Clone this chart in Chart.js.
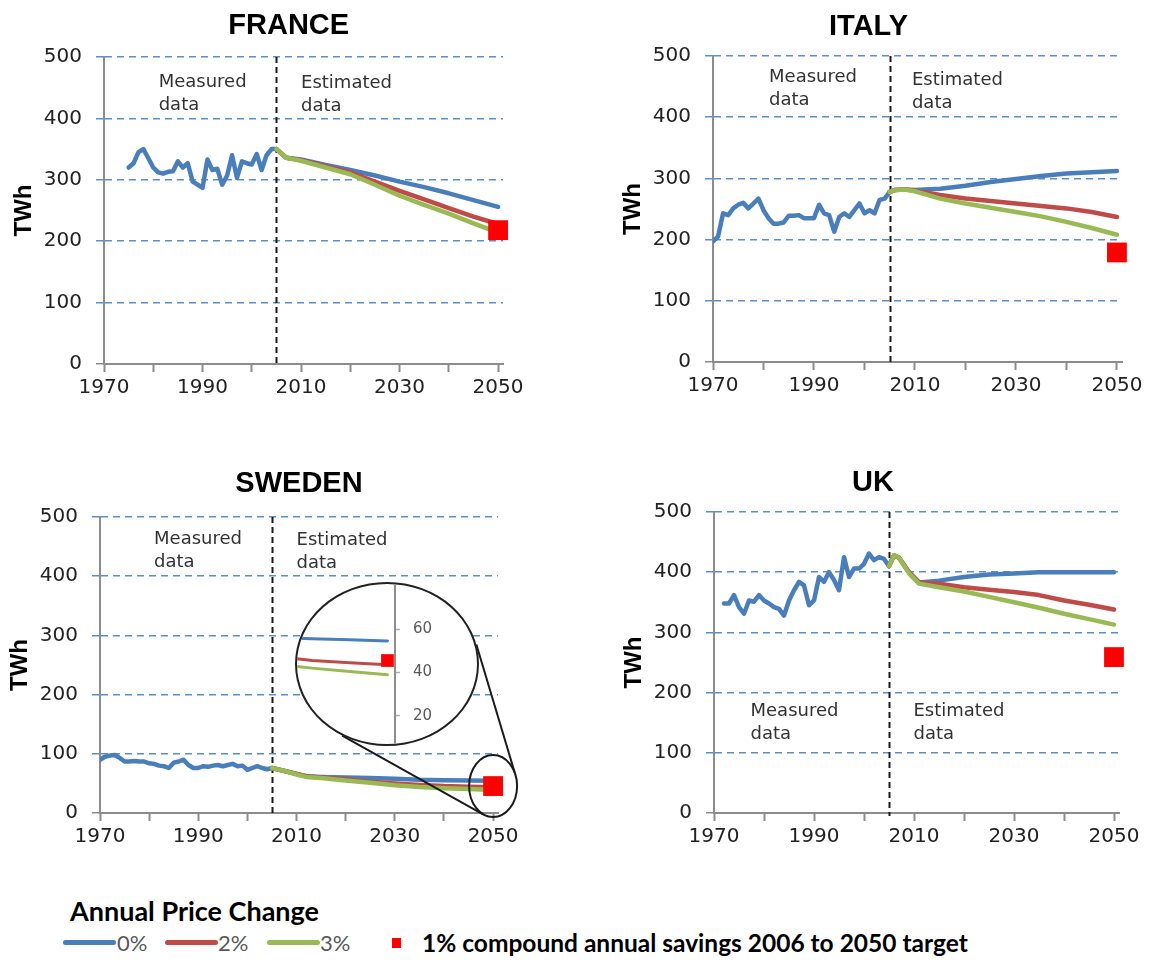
<!DOCTYPE html>
<html>
<head>
<meta charset="utf-8">
<script src="https://cdn.jsdelivr.net/npm/chart.js@4.4.1/dist/chart.umd.min.js"></script>
<style>
html,body{margin:0;padding:0;background:#fff;}
#wrap{position:relative;width:1153px;height:967px;overflow:hidden;background:#fff;}
.cv{position:absolute;}
#insetBox{position:absolute;border:2px solid #222;border-radius:50%;overflow:hidden;background:#fff;box-sizing:border-box;z-index:5;}
#insetBox canvas{position:absolute;left:0;top:0;}
.lg{position:absolute;white-space:nowrap;font-family:Lato,"Liberation Sans",sans-serif;}
.sw{position:absolute;height:5px;border-radius:2.5px;}
</style>
</head>
<body>
<div id="wrap">
  <canvas class="cv" id="cFrance" width="576" height="450" style="left:0;top:0"></canvas>
  <canvas class="cv" id="cItaly" width="577" height="450" style="left:576px;top:0"></canvas>
  <canvas class="cv" id="cSweden" width="576" height="430" style="left:0;top:450px"></canvas>
  <canvas class="cv" id="cUK" width="577" height="430" style="left:576px;top:450px"></canvas>
  <div id="insetBox" style="left:295px;top:582px;width:184px;height:164px;"><canvas id="cInset" width="180" height="160"></canvas></div>

  <div class="lg" style="left:70px;top:897px;font-size:27px;line-height:27px;font-weight:700;color:#000;">Annual Price Change</div>
  <div class="sw" style="left:63px;top:940px;width:53px;background:#4a7ebb;"></div>
  <div class="lg" style="left:117px;top:932px;font-size:22px;line-height:22px;color:#595959;">0%</div>
  <div class="sw" style="left:165px;top:940px;width:53px;background:#be4b48;"></div>
  <div class="lg" style="left:218px;top:932px;font-size:22px;line-height:22px;color:#595959;">2%</div>
  <div class="sw" style="left:267px;top:940px;width:53px;background:#98b954;"></div>
  <div class="lg" style="left:320px;top:932px;font-size:22px;line-height:22px;color:#595959;">3%</div>
  <div style="position:absolute;left:392px;top:938px;width:9px;height:10px;background:#ff0000;"></div>
  <div class="lg" style="left:422px;top:930px;font-size:24.5px;line-height:25px;font-weight:700;color:#000;">1% compound annual savings 2006 to 2050 target</div>
</div>

<script>
// ---------------- data ----------------
const decadeTicks = [1970, 1980, 1990, 2000, 2010, 2020, 2030, 2040, 2050];
const xLabelYears = [1970, 1990, 2010, 2030, 2050];
const yTickValues = [0, 100, 200, 300, 400, 500];
const insetTickValues = [20, 40, 60];
const dividerYear = 2005;
const targetYear = 2050;

const measuredYears = [1970,1971,1972,1973,1974,1975,1976,1977,1978,1979,1980,1981,1982,1983,1984,1985,1986,1987,1988,1989,
                       1990,1991,1992,1993,1994,1995,1996,1997,1998,1999,2000,2001,2002,2003,2004,2005];

// FRANCE (measured 1975-2005)
const franceMeasured = [320,327,345,350,335,320,312,310,313,314,330,320,327,297,292,287,333,316,318,292,307,340,303,330,327,325,342,316,340,350,350];
const franceProjYears = [2005,2007,2010,2015,2020,2025,2030,2035,2040,2045,2050];
const franceP0 = [350,336,333,324,316,307,297,288,278,267,256];
const franceP2 = [350,336,332,322,312,297,282,268,254,240,228];
const franceP3 = [350,336,331,320,309,292,274,259,245,229,214];
const franceTarget = 218;

// ITALY (measured 1970-2005)
const italyMeasured = [197,205,243,240,251,257,260,251,259,267,248,235,226,226,228,239,239,240,235,235,235,257,243,240,213,237,243,237,248,259,243,248,243,265,267,278];
const italyProjYears = [2005,2006,2008,2010,2015,2020,2025,2030,2035,2040,2045,2050];
const italyP0 = [278,281,282,281,283,288,294,299,304,308,310,312];
const italyP2 = [278,281,282,280,273,267,263,259,255,251,245,237];
const italyP3 = [278,281,282,279,267,259,252,245,238,229,219,208];
const italyTarget = 179;

// SWEDEN (measured 1970-2005)
const swedenMeasured = [90,95,97,98,93,87,87,88,87,87,84,83,80,79,76,85,87,90,81,76,76,79,78,80,81,79,81,83,79,80,73,76,79,76,74,76];
const swedenProjYears = [2005,2008,2010,2012,2015,2020,2025,2030,2035,2040,2045,2050];
const swedenP0 = [76,70,66,62,61,60,59,58,56,55.5,55,54.5];
const swedenP2 = [76,70,66,62,60,57,53,50,47.5,45.5,44.5,43.5];
const swedenP3 = [76,70,65,61,59,55,51,47,44,42,40.5,39];
const swedenTarget = 45.5;

// UK (measured 1972-2005)
const ukMeasured = [348,348,362,342,331,353,351,362,353,348,342,339,328,353,370,384,378,345,353,392,384,400,387,370,425,392,406,406,414,431,420,425,422,410];
const ukProjYears = [2005,2006,2007,2009,2011,2015,2020,2025,2030,2035,2040,2045,2050];
const ukP0 = [410,428,424,400,383,386,392,396,398,400,400,400,400];
const ukP2 = [410,428,424,400,383,381,375,371,367,362,353,346,338];
const ukP3 = [410,428,424,398,381,375,368,359,350,341,331,322,313];
const ukTarget = 259;

// ---------------- styles / layout ----------------
const COL0 = '#4a7ebb', COL2 = '#be4b48', COL3 = '#98b954', TARGET_COL = '#ff0000';
const GRID_COL = '#5b8fc9', AXIS_COL = '#8c8c8c';
Chart.defaults.font.family = '"DejaVu Sans", Verdana, sans-serif';

function pts(years, vals) { return vals.map((v, i) => ({x: years[i], y: v})); }

const charts = [
  {id: 'cFrance', title: 'FRANCE', canvas: {l: 0, t: 0, w: 576, h: 450}, area: {l: 104, r: 503, t: 57, b: 364},
   titleYear: 2007.5, titleDy: 31, measured: pts(measuredYears.slice(5), franceMeasured),
   p0: pts(franceProjYears, franceP0), p2: pts(franceProjYears, franceP2), p3: pts(franceProjYears, franceP3), target: franceTarget,
   notes: [{x: 1981.1, y: 473, lines: ['Measured', 'data']}, {x: 2010, y: 470, lines: ['Estimated', 'data']}]},
  {id: 'cItaly', title: 'ITALY', canvas: {l: 576, t: 0, w: 577, h: 450}, area: {l: 713, r: 1122, t: 56, b: 362},
   titleYear: 2000.8, titleDy: 29, measured: pts(measuredYears, italyMeasured),
   p0: pts(italyProjYears, italyP0), p2: pts(italyProjYears, italyP2), p3: pts(italyProjYears, italyP3), target: italyTarget,
   notes: [{x: 1981.1, y: 479, lines: ['Measured', 'data']}, {x: 2009.4, y: 474, lines: ['Estimated', 'data']}]},
  {id: 'cSweden', title: 'SWEDEN', canvas: {l: 0, t: 450, w: 576, h: 430}, area: {l: 100, r: 498, t: 517, b: 813},
   titleYear: 2010.5, titleDy: 33, measured: pts(measuredYears, swedenMeasured),
   p0: pts(swedenProjYears, swedenP0), p2: pts(swedenProjYears, swedenP2), p3: pts(swedenProjYears, swedenP3), target: swedenTarget,
   notes: [{x: 1981, y: 476, lines: ['Measured', 'data']}, {x: 2010, y: 474, lines: ['Estimated', 'data']}],
   zoom: true},
  {id: 'cUK', title: 'UK', canvas: {l: 576, t: 450, w: 577, h: 430}, area: {l: 714, r: 1119, t: 512, b: 813},
   titleYear: 2001.8, titleDy: 29, measured: pts(measuredYears.slice(2), ukMeasured),
   p0: pts(ukProjYears, ukP0), p2: pts(ukProjYears, ukP2), p3: pts(ukProjYears, ukP3), target: ukTarget,
   notes: [{x: 1977.3, y: 182, lines: ['Measured', 'data']}, {x: 2009.9, y: 182, lines: ['Estimated', 'data']}]}
];

// inset geometry (page coordinates)
const inset = {cx: 387, cy: 664, rx: 92, ry: 82, angA: -0.24, angB: 2.08};
const smallEllipse = {rx: 24, ry: 31, angA: -0.45, angB: 2.0};

const Y_AXIS_W = 60, X_AXIS_H = 40;

function decoPlugin(spec) {
  return {
    id: 'deco',
    beforeDatasetsDraw(chart) {
      const {ctx, chartArea: a, scales: {x}} = chart;
      const px = Math.round(x.getPixelForValue(dividerYear)) + 0.5;
      ctx.save();
      ctx.strokeStyle = '#1a1a1a'; ctx.lineWidth = 2; ctx.setLineDash([6, 4]);
      ctx.beginPath(); ctx.moveTo(px, a.top); ctx.lineTo(px, a.bottom + 3); ctx.stroke();
      ctx.restore();
    },
    afterDraw(chart) {
      const {ctx, chartArea: a, scales: {x, y}} = chart;
      ctx.save();
      ctx.fillStyle = '#000';
      ctx.font = 'bold 29px "Liberation Sans", Arial, sans-serif';
      ctx.textAlign = 'center'; ctx.textBaseline = 'middle';
      ctx.fillText(spec.title, x.getPixelForValue(spec.titleYear), a.top - spec.titleDy);
      ctx.save();
      ctx.translate(a.left - 80, y.getPixelForValue(250));
      ctx.rotate(-Math.PI / 2);
      ctx.font = 'bold 24px "Liberation Sans", Arial, sans-serif';
      ctx.fillText('TWh', 0, 0);
      ctx.restore();
      ctx.font = '18px "DejaVu Sans", Verdana, sans-serif';
      ctx.fillStyle = '#333';
      ctx.textAlign = 'left'; ctx.textBaseline = 'alphabetic';
      spec.notes.forEach(n => {
        const nx = x.getPixelForValue(n.x), ny = y.getPixelForValue(n.y) + 13;
        n.lines.forEach((t, i) => ctx.fillText(t, nx, ny + i * 23));
      });
      if (spec.zoom) {
        const ox = spec.canvas.l, oy = spec.canvas.t;
        const scx = x.getPixelForValue(targetYear), scy = y.getPixelForValue(spec.target);
        ctx.strokeStyle = '#1a1a1a'; ctx.lineWidth = 2;
        ctx.beginPath();
        ctx.ellipse(scx, scy, smallEllipse.rx, smallEllipse.ry, 0, 0, Math.PI * 2);
        ctx.stroke();
        const bigPt = ang => [inset.cx - ox + inset.rx * Math.cos(ang), inset.cy - oy + inset.ry * Math.sin(ang)];
        const smallPt = ang => [scx + smallEllipse.rx * Math.cos(ang), scy + smallEllipse.ry * Math.sin(ang)];
        [[inset.angA, smallEllipse.angA], [inset.angB, smallEllipse.angB]].forEach(([b, s]) => {
          const p1 = bigPt(b), p2 = smallPt(s);
          ctx.beginPath(); ctx.moveTo(p1[0], p1[1]); ctx.lineTo(p2[0], p2[1]); ctx.stroke();
        });
      }
      ctx.restore();
    }
  };
}

function lineDs(data, color, order) {
  return {data, borderColor: color, backgroundColor: color, borderWidth: 4.5, pointRadius: 0,
          tension: 0, borderJoinStyle: 'round', borderCapStyle: 'round', order};
}
function targetDs(value, r) {
  return {data: [{x: targetYear, y: value}], showLine: false, pointStyle: 'rect', pointRadius: r,
          pointBackgroundColor: TARGET_COL, pointBorderWidth: 0, pointHoverRadius: r, clip: false, order: 0};
}

charts.forEach(spec => {
  const c = spec.canvas, a = spec.area;
  const pad = {left: a.l - c.l - Y_AXIS_W, right: c.l + c.w - a.r, top: a.t - c.t, bottom: c.t + c.h - a.b - X_AXIS_H};
  new Chart(document.getElementById(spec.id), {
    type: 'line',
    data: {datasets: [
      lineDs(spec.measured, COL0, 4),
      lineDs(spec.p0, COL0, 3),
      lineDs(spec.p2, COL2, 2),
      lineDs(spec.p3, COL3, 1),
      targetDs(spec.target, 14)
    ]},
    options: {
      responsive: false, animation: false, events: [],
      layout: {padding: pad, autoPadding: false},
      plugins: {legend: {display: false}, tooltip: {enabled: false}, title: {display: false}},
      scales: {
        x: {
          type: 'linear', min: 1970, max: 2051,
          afterBuildTicks: s => { s.ticks = decadeTicks.map(v => ({value: v})); },
          afterFit: s => { s.height = X_AXIS_H; },
          ticks: {callback: v => xLabelYears.includes(v) ? String(v) : '', autoSkip: false, maxRotation: 0,
                  font: {size: 20}, color: '#222', padding: 4},
          grid: {display: true, drawOnChartArea: false, drawTicks: true, tickLength: 8, tickColor: AXIS_COL, tickWidth: 2},
          border: {display: true, color: AXIS_COL, width: 2}
        },
        y: {
          type: 'linear', min: 0, max: 500,
          afterBuildTicks: s => { s.ticks = yTickValues.map(v => ({value: v})); },
          afterFit: s => { s.width = Y_AXIS_W; },
          ticks: {font: {size: 20}, color: '#222', padding: 14},
          grid: {
            color: ctx => (ctx.tick && ctx.tick.value === 0) ? 'rgba(0,0,0,0)' : GRID_COL,
            lineWidth: 1.5, tickLength: 8,
            tickColor: ctx => (ctx.tick && ctx.tick.value === 0) ? AXIS_COL : GRID_COL,
            tickWidth: 1.5
          },
          border: {display: true, color: AXIS_COL, width: 2, dash: [7, 5]}
        }
      }
    },
    plugins: [decoPlugin(spec)]
  });
});

// Sweden zoom inset
new Chart(document.getElementById('cInset'), {
  type: 'line',
  data: {datasets: [
    Object.assign(lineDs(pts(swedenProjYears, swedenP0), COL0, 3), {borderWidth: 3}),
    Object.assign(lineDs(pts(swedenProjYears, swedenP2), COL2, 2), {borderWidth: 3}),
    Object.assign(lineDs(pts(swedenProjYears, swedenP3), COL3, 1), {borderWidth: 3}),
    targetDs(swedenTarget, 9)
  ]},
  options: {
    responsive: false, animation: false, events: [],
    layout: {padding: 0, autoPadding: false},
    plugins: {legend: {display: false}, tooltip: {enabled: false}},
    scales: {
      x: {type: 'linear', display: false, min: 2038, max: 2051},
      y: {
        type: 'linear', position: 'right', min: 7.1, max: 80.7,
        afterBuildTicks: s => { s.ticks = insetTickValues.map(v => ({value: v})); },
        afterFit: s => { s.width = 82; s.paddingTop = 0; s.paddingBottom = 0; },
        ticks: {font: {size: 15}, color: '#595959', padding: 13},
        grid: {drawOnChartArea: false, tickLength: 5, tickColor: '#b0b0b0', tickWidth: 1.5},
        border: {display: true, color: AXIS_COL, width: 2}
      }
    }
  }
});
</script>
</body>
</html>
